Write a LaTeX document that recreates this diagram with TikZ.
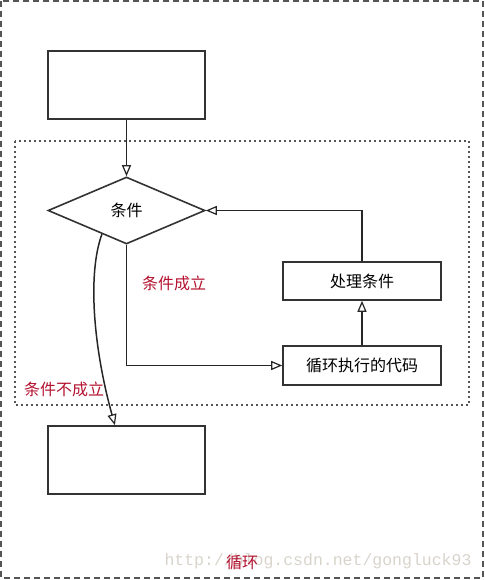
\documentclass[tikz,border=0pt]{standalone}
\usepackage{fontspec}
\newfontfamily\cjk{Noto Sans CJK SC}
\newfontfamily\wmfont{Liberation Mono}
\usetikzlibrary{shapes.geometric,arrows.meta,calc}
\definecolor{boxline}{RGB}{51,51,51}
\definecolor{frameline}{RGB}{85,85,85}
\definecolor{labelred}{RGB}{180,18,48}
\definecolor{wmgray}{RGB}{216,212,204}
\tikzset{
  every node/.style={font=\cjk\fontsize{16}{18}\selectfont},
  boxnode/.style={draw=boxline, line width=1.6pt, rectangle, inner sep=0pt},
  decision/.style={draw=boxline, line width=1.6pt, diamond, inner sep=0pt, minimum width=157pt, minimum height=67pt},
  conn/.style={draw=black!85, line width=1.5pt, -{Triangle[open,length=11pt,width=9pt,line width=1.2pt]}},
  redlabel/.style={text=labelred},
}
\begin{document}
\begin{tikzpicture}[x=1pt,y=-1pt]
\useasboundingbox (0,0) rectangle (484,580);
% outer dashed frame
\draw[frameline, line width=2pt, dash pattern=on 6pt off 4pt] (1,1) rectangle (483,578);
% dotted loop frame
\draw[frameline, line width=1.6pt, dash pattern=on 1.6pt off 3.4pt] (15,141) rectangle (469,405);
% watermark
\node[font=\wmfont\fontsize{16.5}{18}\selectfont, text=wmgray, inner sep=0pt] (wm) at (318,561) {http://blog.csdn.net/gongluck93};
% nodes
\node[boxnode, minimum width=157pt, minimum height=68pt] (top) at (126.5,85) {};
\node[decision] (d) at (126.5,210.5) {条件};
\node[boxnode, minimum width=158pt, minimum height=38pt] (proc) at (362,281) {处理条件};
\node[boxnode, minimum width=158pt, minimum height=39pt] (loop) at (362,365.5) {循环执行的代码};
\node[boxnode, minimum width=157pt, minimum height=68pt] (bot) at (126.5,460) {};
% labels
\node[redlabel] (yes) at (174,283) {条件成立};
\node[redlabel] (no) at (64,389) {条件不成立};
\node[redlabel] (loopname) at (242,562) {循环};
% connectors
\draw[conn] (top.south) -- (d.north);
\draw[conn] (d.south) |- (loop.west);
\draw[conn] (loop.north) -- (proc.south);
\draw[conn] (proc.north) |- (d.east);
\coordinate (cstart) at ($(d.west)!0.69!(d.south)$);
\coordinate (cend) at ($(bot.north west)!0.427!(bot.north east)$);
\draw[conn] (cstart) .. controls (87,275) and (94,350) .. (cend);
\end{tikzpicture}
\end{document}
